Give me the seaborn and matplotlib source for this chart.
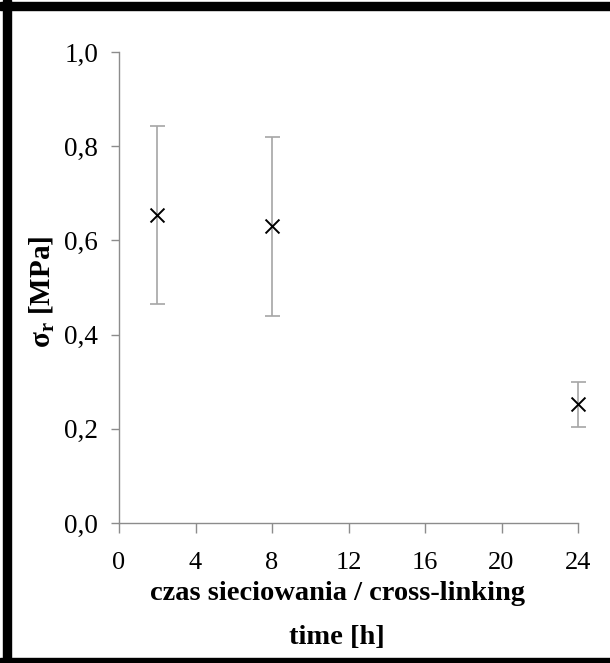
import matplotlib
matplotlib.use("Agg")
import matplotlib.pyplot as plt
import seaborn as sns
import pandas as pd
from matplotlib.patches import Rectangle

time_h = [2, 8, 24]
sigma_r = [0.654, 0.630, 0.252]
sigma_err = [0.188, 0.190, 0.048]
x_ticks = [0, 4, 8, 12, 16, 20, 24]
y_ticks = [0.0, 0.2, 0.4, 0.6, 0.8, 1.0]
y_tick_labels = ["0,0", "0,2", "0,4", "0,6", "0,8", "1,0"]

sns.set_style("white")
plt.rcParams["font.family"] = ["Liberation Serif", "DejaVu Serif"]
plt.rcParams["mathtext.fontset"] = "custom"
plt.rcParams["mathtext.rm"] = "Liberation Serif"
plt.rcParams["mathtext.bf"] = "Liberation Serif:bold"
plt.rcParams["text.color"] = "black"
plt.rcParams["xtick.labelcolor"] = "black"
plt.rcParams["ytick.labelcolor"] = "black"

df = pd.DataFrame({"time": time_h, "sigma": sigma_r, "err": sigma_err})

fig = plt.figure(figsize=(6.10, 6.63), dpi=100)
ax = fig.add_axes([119/610, 1 - 523/663, (578-119)/610, (523-52)/663])

ax.errorbar(df["time"], df["sigma"], yerr=df["err"], fmt="none",
            ecolor="#a6a6a6", elinewidth=1.2, capsize=5.4, capthick=1.2,
            zorder=2, clip_on=False)
sns.scatterplot(data=df, x="time", y="sigma", marker="x", color="black",
                s=100, linewidth=1.4, ax=ax, zorder=3, clip_on=False)

ax.set_xlim(0, 24)
ax.set_ylim(0, 1.0)
ax.set_xticks(x_ticks)
ax.set_xticklabels([str(t) for t in x_ticks])
ax.set_yticks(y_ticks)
ax.set_yticklabels(y_tick_labels)

for s in ["top", "right"]:
    ax.spines[s].set_visible(False)
for s in ["left", "bottom"]:
    ax.spines[s].set_color("#8c8c8c")
    ax.spines[s].set_linewidth(1.0)

ax.tick_params(axis="y", direction="out", length=6, width=1.0, color="#8c8c8c",
               labelsize=19.5, pad=9, left=True, labelcolor="black")
ax.tick_params(axis="x", direction="out", length=7, width=1.0, color="#8c8c8c",
               labelsize=19, pad=14, bottom=True, labelcolor="black")

ax.set_xlabel("")
ax.set_ylabel("")
fig.text(337/610, 1 - 600/663, "czas sieciowania / cross-linking", ha="center",
         va="baseline", fontsize=20.5, fontweight="bold", color="black")
fig.text(337/610, 1 - 644/663, "time [h]", ha="center", va="baseline",
         fontsize=20.5, fontweight="bold", color="black")
fig.text(42/610, 1 - 292/663, r"σ$_\mathbf{r}$ [MPa]", rotation=90, ha="center",
         va="center", fontsize=21, fontweight="bold", color="black")

# figure border
fig.patches.append(Rectangle((3/610, 0), 8/610, 1, transform=fig.transFigure,
                             color="black", zorder=10))
fig.patches.append(Rectangle((0, 1 - 10/663), 1, 8/663, transform=fig.transFigure,
                             color="black", zorder=10))
fig.patches.append(Rectangle((0, 0), 1, 5/663, transform=fig.transFigure,
                             color="black", zorder=10))

fig.savefig("out.png", dpi=100)
